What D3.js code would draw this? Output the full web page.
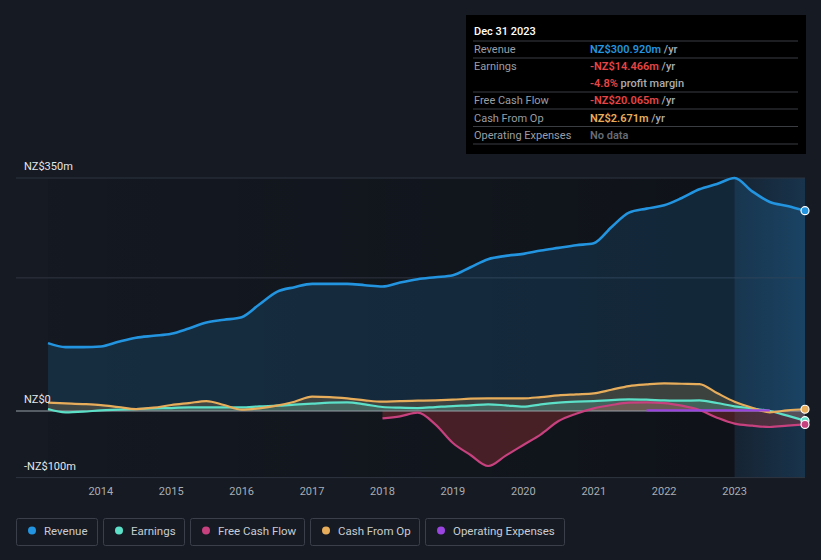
<!DOCTYPE html>
<html><head><meta charset="utf-8">
<script src="https://cdn.jsdelivr.net/npm/d3@7"></script>
<style>
html,body{margin:0;padding:0;background:#151a23;}
svg{display:block;font-family:Roboto,"Open Sans",sans-serif;}
</style></head>
<body>
<svg id="chart" width="821" height="560"></svg>
<script>
// Quarterly data points from 2013.25 to 2024.0
const startYear = 2013.25;
const revenue = [102,96,96,97,104,110,113,116,124,133,137,141,160,179,186,191,191,191,189,187,193,198,201,204,216,228,233,236,241,245,249,252,276,298,304,309,320,333,341,350,330,314,308,300.92];
const earnings = [3,-2,-1,1,2,3,4,4.5,5.5,5.5,5.5,5.5,7,8,9.5,11,12.5,13,10,6,5,4.5,6,7.5,8.5,10,8.5,6.5,10,12.5,14,15,16.5,17.5,17,16,15.5,16,12,7,4,0,-7,-14.466];
const cashFromOp = [12.5,11.5,10.5,9,6,3,5,9,12,15,9,2,4,8,14,21.5,21,19,16,14,15,15.5,16,17,18.5,19,19,19,21,23.5,25,26.5,32,37.5,40,41.5,41,40.5,27,14,5,-2,1,2.671];
const fcfStartIndex = 19;
const freeCashFlow = [-11,-8,-2.5,-20,-48,-66,-82.6,-67,-51,-35,-15,-4,4,9,12.5,13,12,8,1.5,-10,-19,-22,-24,-22,-20.065];
const opexStartIndex = 34;
const opExpenses = [1,1,1,1,1,1,1,1];
const yearTicks = [2014,2015,2016,2017,2018,2019,2020,2021,2022,2023];
const yTickValues = [350,0,-100];
const yTickLabels = ["NZ$350m","NZ$0","-NZ$100m"];
const legendNames = ["Revenue","Earnings","Free Cash Flow","Cash From Op","Operating Expenses"];
const colors = {rev:"#2394df", earn:"#5ce0c8", fcf:"#c7417f", cfo:"#e8ad5b", opex:"#9b45e0"};
const legendColors = [colors.rev, colors.earn, colors.fcf, colors.cfo, colors.opex];
const tooltipRows = [
  {label:"Revenue", value:"NZ$300.920m", color:"#2394df", suffix:" /yr"},
  {label:"Earnings", value:"-NZ$14.466m", color:"#e64545", suffix:" /yr"},
  {label:"", value:"-4.8%", color:"#e64545", suffix:" profit margin"},
  {label:"Free Cash Flow", value:"-NZ$20.065m", color:"#e64545", suffix:" /yr"},
  {label:"Cash From Op", value:"NZ$2.671m", color:"#e8ad5b", suffix:" /yr"},
  {label:"Operating Expenses", value:"No data", color:"#666c75", suffix:""}
];

const svg = d3.select("#chart");
const x = d3.scaleLinear().domain([2013.25, 2024.0]).range([48, 805]);
const y = d3.scaleLinear().domain([-100, 350]).range([477.6, 178]);
const t = i => startYear + 0.25*i;

const defs = svg.append("defs");
const gDark = defs.append("linearGradient").attr("id","gDark").attr("x1","0").attr("x2","1").attr("y1","0").attr("y2","0");
gDark.append("stop").attr("offset","0").attr("stop-color","#000").attr("stop-opacity",0.05);
gDark.append("stop").attr("offset","1").attr("stop-color","#000").attr("stop-opacity",0.3);
const gNow = defs.append("linearGradient").attr("id","gNow").attr("x1","0").attr("x2","1").attr("y1","0").attr("y2","0");
gNow.append("stop").attr("offset","0").attr("stop-color","#1c5a8a").attr("stop-opacity",0.15);
gNow.append("stop").attr("offset","1").attr("stop-color","#1c5a8a").attr("stop-opacity",0.4);

// plot backgrounds
svg.append("rect").attr("x",x(2013.25)).attr("y",y(350)).attr("width",x(2023)-x(2013.25)).attr("height",y(-100)-y(350)).attr("fill","url(#gDark)");
svg.append("rect").attr("x",x(2023)).attr("y",y(350)).attr("width",x(2024)-x(2023)).attr("height",y(-100)-y(350)).attr("fill","url(#gNow)");

// gridlines
const gridVals = [350,200];
svg.selectAll(".grid").data(gridVals).enter().append("line")
  .attr("x1",16).attr("x2",805).attr("y1",d=>y(d)).attr("y2",d=>y(d))
  .attr("stroke","#2f3540").attr("stroke-width",1);
svg.append("line").attr("x1",16).attr("x2",805).attr("y1",y(-100)).attr("y2",y(-100)).attr("stroke","#2f3540");

const curve = d3.curveMonotoneX;
function series(arr, start){ return arr.map((v,i)=>({t:t(start+i), v})); }
const revD = series(revenue,0), earnD = series(earnings,0), cfoD = series(cashFromOp,0), fcfD = series(freeCashFlow,fcfStartIndex), opexD = series(opExpenses,opexStartIndex);

const area = d3.area().x(d=>x(d.t)).y0(y(0)).y1(d=>y(d.v)).curve(curve);
const line = d3.line().x(d=>x(d.t)).y(d=>y(d.v)).curve(curve);

svg.append("path").datum(revD).attr("d",area).attr("fill","#2394df").attr("fill-opacity",0.16);
svg.append("path").datum(cfoD).attr("d",area).attr("fill","#e8ad5b").attr("fill-opacity",0.2);
svg.append("path").datum(earnD).attr("d",area).attr("fill","#5ce0c8").attr("fill-opacity",0.2);
svg.append("path").datum(fcfD).attr("d",area).attr("fill","#e64545").attr("fill-opacity",0.25);

// zero line
svg.append("line").attr("x1",16).attr("x2",805).attr("y1",y(0)).attr("y2",y(0)).attr("stroke","#9aa0a8").attr("stroke-width",1.2);

svg.append("path").datum(revD).attr("d",line).attr("fill","none").attr("stroke",colors.rev).attr("stroke-width",2.6);
svg.append("path").datum(fcfD).attr("d",line).attr("fill","none").attr("stroke",colors.fcf).attr("stroke-width",2.2);
svg.append("path").datum(earnD).attr("d",line).attr("fill","none").attr("stroke",colors.earn).attr("stroke-width",2.2);
svg.append("path").datum(cfoD).attr("d",line).attr("fill","none").attr("stroke",colors.cfo).attr("stroke-width",2.2);
svg.append("path").datum(opexD).attr("d",line).attr("fill","none").attr("stroke",colors.opex).attr("stroke-width",2.4);

// end markers
const ends = [[revD,colors.rev],[cfoD,colors.cfo],[earnD,colors.earn],[fcfD,colors.fcf]];
ends.forEach(([d,c])=>{
  const last = d[d.length-1];
  svg.append("circle").attr("cx",x(last.t)).attr("cy",y(last.v)).attr("r",4).attr("fill",c).attr("stroke","#fff").attr("stroke-width",1.2);
});

// y labels
svg.selectAll(".ylab").data(yTickValues).enter().append("text")
  .attr("x",24).attr("y",d=>y(d)-8).attr("fill","#e6e6e6").attr("font-size",11).text((d,i)=>yTickLabels[i]);

// x axis labels
svg.selectAll(".xlab").data(yearTicks).enter().append("text")
  .attr("x",d=>x(d)).attr("y",495).attr("text-anchor","middle").attr("fill","#a9adb3").attr("font-size",11).text(d=>d);

// tooltip
const tip = svg.append("g");
tip.append("rect").attr("x",466).attr("y",15).attr("width",340).attr("height",139).attr("fill","#000");
tip.append("text").attr("x",474).attr("y",35).attr("fill","#fff").attr("font-size",11).attr("font-weight",500).text("Dec 31 2023");
const sepY = [41,58,92,109,126.5,144];
sepY.forEach(s=>tip.append("line").attr("x1",473).attr("x2",798).attr("y1",s).attr("y2",s).attr("stroke","#3a3d42").attr("stroke-width",1));
const rowY = [53,70,87,104,122,139];
tooltipRows.forEach((r,i)=>{
  if(r.label) tip.append("text").attr("x",474).attr("y",rowY[i]).attr("fill","#9a9ea4").attr("font-size",11).text(r.label);
  const tx = tip.append("text").attr("x",590).attr("y",rowY[i]).attr("font-size",11);
  tx.append("tspan").attr("fill",r.color).attr("font-weight",600).text(r.value);
  tx.append("tspan").attr("fill","#a9adb3").attr("font-weight",500).text(r.suffix);
});

// legend
const legX = [16,103,190,310,425];
const legW = [81,81,114,109,139];
const lg = svg.append("g");
legendNames.forEach((n,i)=>{
  lg.append("rect").attr("x",legX[i]+0.5).attr("y",518.5).attr("width",legW[i]).attr("height",27).attr("rx",2).attr("fill","none").attr("stroke","#3a3f4a");
  lg.append("circle").attr("cx",legX[i]+16).attr("cy",530.5).attr("r",4).attr("fill",legendColors[i]);
  lg.append("text").attr("x",legX[i]+28).attr("y",534.5).attr("fill","#c9ccd1").attr("font-size",11.5).text(n);
});
</script>
</body></html>
